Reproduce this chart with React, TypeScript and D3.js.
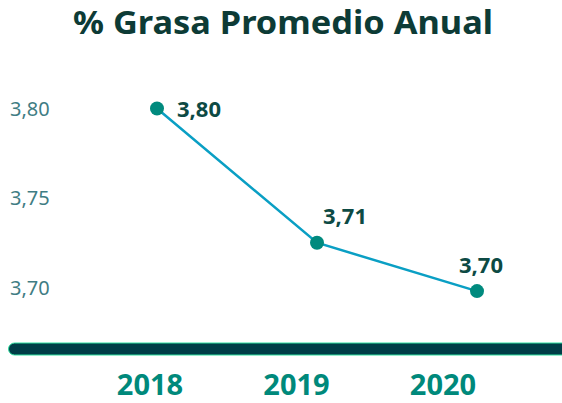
import React from "react";
import * as d3 from "d3";

const years = ["2018", "2019", "2020"];
const values = [3.8, 3.725, 3.698];
const valueLabels = ["3,80", "3,71", "3,70"];
const yTicks = [3.7, 3.75, 3.8];
const title = "% Grasa Promedio Anual";

const W = 562;
const H = 403;

export default function App() {
  const x = d3.scalePoint<string>().domain(years).range([157, 477]);
  const xLab = d3.scalePoint<string>().domain(years).range([150, 443]);
  const y = d3.scaleLinear().domain([3.7, 3.8]).range([287.5, 108.5]);
  const line = d3
    .line<number>()
    .x((_, i) => x(years[i]) as number)
    .y((d) => y(d));
  const fmt = (v: number) => d3.format(".2f")(v).replace(".", ",");
  const labelOffsets = [
    { dx: 20, dy: 8 },
    { dx: 6, dy: -19 },
    { dx: -18, dy: -18 },
  ];
  const font = "'Noto Sans', 'Open Sans', sans-serif";
  return (
    <svg
      width={W}
      height={H}
      style={{ position: "absolute", left: 0, top: 0, display: "block" }}
      fontFamily={font}
    >
      <rect width={W} height={H} fill="#ffffff" />
      <text
        x={73}
        y={34}
        fontSize={33}
        fontWeight={700}
        fill="#0d3b36"
        textLength={420}
        lengthAdjust="spacingAndGlyphs"
      >
        {title}
      </text>
      {yTicks.map((t) => (
        <text
          key={t}
          x={10}
          y={y(t)}
          dy="0.35em"
          fontSize={20}
          fill="#3f7d84"
        >
          {fmt(t)}
        </text>
      ))}
      <path
        d={line(values) || ""}
        fill="none"
        stroke="#0a9fc4"
        strokeWidth={2.5}
      />
      {values.map((v, i) => (
        <circle
          key={i}
          cx={x(years[i])}
          cy={y(v)}
          r={7}
          fill="#008a7e"
        />
      ))}
      {values.map((v, i) => (
        <text
          key={"l" + i}
          x={(x(years[i]) as number) + labelOffsets[i].dx}
          y={y(v) + labelOffsets[i].dy}
          fontSize={22}
          fontWeight={700}
          fill="#0d4a44"
        >
          {valueLabels[i]}
        </text>
      ))}
      <rect
        x={8.5}
        y={343}
        width={W}
        height={12}
        rx={6}
        fill="#003d47"
        stroke="#2ee0a0"
        strokeWidth={1}
      />
      {years.map((yr) => (
        <text
          key={yr}
          x={xLab(yr)}
          y={395}
          textAnchor="middle"
          fontSize={29}
          fontWeight={700}
          fill="#00897b"
        >
          {yr}
        </text>
      ))}
    </svg>
  );
}
